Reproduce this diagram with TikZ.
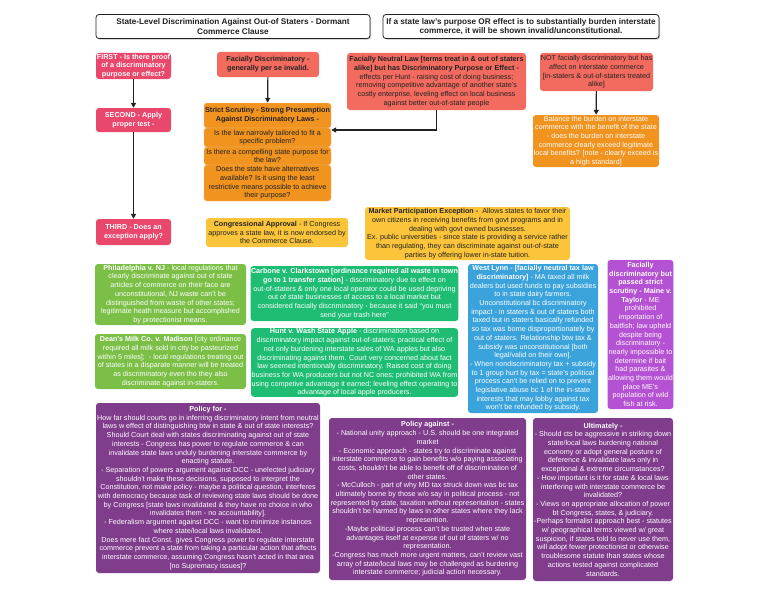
\documentclass[tikz,border=0pt]{standalone}
\usepackage{fontspec}
\setmainfont{Liberation Sans}
\usetikzlibrary{arrows.meta,shadows}
\definecolor{crim}{HTML}{E9476B}
\definecolor{salm}{HTML}{F36B5F}
\definecolor{oran}{HTML}{F0931F}
\definecolor{yell}{HTML}{FBC43A}
\definecolor{lgreen}{HTML}{7CBF47}
\definecolor{tgreen}{HTML}{1FBC74}
\definecolor{lblue}{HTML}{3BA3DC}
\definecolor{mag}{HTML}{B452D3}
\definecolor{dpurp}{HTML}{7F3D8B}
\definecolor{ink}{HTML}{222222}
\newcommand{\fsz}{\fontsize{7.2}{8.7}\selectfont}
\tikzset{
  box/.style={rounded corners=3pt, align=center, inner sep=0.5pt, font=\fsz, text=ink},
  wbox/.style={box, text=white},
  titlebox/.style={rounded corners=3pt, align=center, inner sep=1pt, draw=ink, line width=0.8pt, fill=white,
     font=\fontsize{8.2}{9.2}\selectfont\bfseries, text=ink,
     drop shadow={shadow xshift=1pt, shadow yshift=-1.2pt, opacity=0.45}},
  arr/.style={draw=ink, line width=1.2pt, -{Triangle[length=5pt,width=5pt]}},
}
\begin{document}
\begin{tikzpicture}[x=1pt,y=-1pt]
\useasboundingbox (0,0) rectangle (768,594);
\fill[white] (0,0) rectangle (768,594);

% titles
\node[titlebox, minimum width=274pt, minimum height=24pt] (t1) at (233,26.5)
 {State-Level Discrimination Against Out-of Staters - Dormant\\Commerce Clause};
\node[titlebox, minimum width=276pt, minimum height=24pt] (t2) at (521,26.5)
 {If a state law's purpose OR effect is to substantially burden interstate\\commerce, it will be shown invalid/unconstitutional.};

% left column
\node[wbox, fill=crim, font=\fsz\bfseries, minimum width=75pt, minimum height=26pt] (first) at (133.5,66)
 {FIRST - Is there proof\\of a discriminatory\\purpose or effect?};
\node[wbox, fill=crim, font=\fsz\bfseries, minimum width=75pt, minimum height=24pt] (second) at (133.5,120)
 {SECOND - Apply\\proper test -};
\node[wbox, fill=crim, font=\fsz\bfseries, minimum width=75pt, minimum height=26pt] (third) at (133.5,232)
 {THIRD - Does an\\exception apply?};

% top row
\node[box, fill=salm, font=\fsz\bfseries, minimum width=102pt, minimum height=25pt] (facdisc) at (268,64.5)
 {Facially Discriminatory -\\generally per se invalid.};
\node[box, fill=salm, minimum width=179pt, minimum height=57pt] (neutral) at (436.5,81.5)
 {\textbf{Facially Neutral Law [terms treat in \& out of staters}\\\textbf{alike] but has Discriminatory Purpose or Effect -}\\effects per Hunt - raising cost of doing business;\\removing competitive advantage of another state's\\costly enterprise, leveling effect on local business\\against better out-of-state people};
\node[box, fill=salm, minimum width=113pt, minimum height=38pt] (notfac) at (596.5,72)
 {NOT facially discriminatory but has\\affect on interstate commerce\\{}[in-staters \& out-of-staters treated\\alike]};

% strict scrutiny stack
\node[box, fill=oran, draw=oran!60!white, line width=0.4pt, minimum width=127pt, minimum height=25pt] (strictA) at (267.5,115.5)
 {\textbf{Strict Scrutiny - Strong Presumption}\\\textbf{Against Discriminatory Laws -}};
\node[box, fill=oran, draw=oran!60!white, line width=0.4pt, minimum width=127pt, minimum height=19pt] (strictB) at (267.5,137.5)
 {Is the law narrowly tailored to fit a\\specific problem?};
\node[box, fill=oran, draw=oran!60!white, line width=0.4pt, minimum width=127pt, minimum height=18pt] (strictC) at (267.5,156)
 {Is there a compelling state purpose for\\the law?};
\node[box, fill=oran, draw=oran!60!white, line width=0.4pt, minimum width=127pt, minimum height=36pt] (strictD) at (267.5,183)
 {Does the state have alternatives\\available? Is it using the least\\restrictive means possible to achieve\\their purpose?};

\node[wbox, fill=oran, minimum width=126pt, minimum height=52pt] (balance) at (596,141)
 {Balance the burden on interstate\\commerce with the benefit of the state\\- does the burden on interstate\\commerce clearly exceed legitimate\\local benefits? [note - clearly exceed is\\a high standard]};

% exceptions
\node[box, fill=yell, minimum width=142pt, minimum height=29pt] (congr) at (277,232.5)
 {\textbf{Congressional Approval} - If Congress\\approves a state law, it is now endorsed by\\the Commerce Clause.};
\node[box, fill=yell, minimum width=205pt, minimum height=53pt] (market) at (467.5,233.5)
 {\textbf{Market Participation Exception -}\ \ Allows states to favor their\\own citizens in receiving benefits from govt programs and in\\dealing with govt owned businesses.\\Ex. public universities - since state is providing a service rather\\than regulating, they can discriminate against out-of-state\\parties by offering lower in-state tuition.};

% cases
\node[wbox, fill=lgreen, minimum width=151pt, minimum height=61pt] (phil) at (170.5,294.5)
 {\textbf{Philadelphia v. NJ} - local regulations that\\clearly discriminate against out of state\\articles of commerce on their face are\\unconstitutional, NJ waste can't be\\distinguished from waste of other states;\\legitimate heath measure but accomplished\\by protectionist means.};
\node[wbox, fill=lgreen, minimum width=151pt, minimum height=55pt] (dean) at (170.5,361.5)
 {\textbf{Dean's Milk Co. v. Madison} [city ordinance\\required all milk sold in city be pasteurized\\within 5 miles]; \ - local regulations treating out\\of states in a disparate manner will be treated\\as discriminatory even tho they also\\discriminate against in-staters.};
\node[wbox, fill=tgreen, minimum width=207pt, minimum height=55pt] (carbone) at (354.5,293.5)
 {\textbf{Carbone v. Clarkstown [ordinance required all waste in town}\\\textbf{go to 1 transfer station]} - discriminatory due to effect on\\out-of-staters \& only one local operator could be used depriving\\out of state businesses of access to a local market but\\considered facially discriminatory - because it said ``you must\\send your trash here''};
\node[wbox, fill=tgreen, minimum width=207pt, minimum height=65pt] (hunt) at (354.5,362.5)
 {\textbf{Hunt v. Wash State Apple} - discrimination based on\\discriminatory impact against out-of-staters; practical effect of\\not only burdening interstate sales of WA apples but also\\discriminating against them. Court very concerned about fact\\law seemed intentionally discriminatory. Raised cost of doing\\business for WA producers but not NC ones; prohibited WA from\\using competive advantage it earned; leveling effect operating to\\advantage of local apple producers.};
\node[wbox, fill=lblue, minimum width=130pt, minimum height=149pt] (westlynn) at (533,338.5)
 {\textbf{West Lynn - [facially neutral tax law}\\\textbf{discriminatory]} - MA taxed all milk\\dealers but used funds to pay subsidies\\to in state dairy farmers.\\Unconstitutional bc discriminatory\\impact - in staters \& out of staters both\\taxed but in staters basically refunded\\so tax was borne disproportionately by\\out of staters. Relationship btw tax \&\\subsidy was unconstitutional [both\\legal/valid on their own].\\- When nondiscriminatory tax + subsidy\\to 1 group hurt by tax = state's political\\process can't be relied on to prevent\\legislative abuse bc 1 of the in-state\\interests that may lobby against tax\\won't be refunded by subsidy.};
\node[wbox, fill=mag, minimum width=65pt, minimum height=149pt] (maine) at (640.5,334.5)
 {\textbf{Facially}\\\textbf{discriminatory but}\\\textbf{passed strict}\\\textbf{scrutiny - Maine v.}\\\textbf{Taylor} - ME\\prohibited\\importation of\\baitfish; law upheld\\despite being\\discriminatory -\\nearly impossible to\\determine if bait\\had parasites \&\\allowing them would\\place ME's\\population of wild\\fish at risk.};

% policy
\node[wbox, fill=dpurp, minimum width=224pt, minimum height=170pt] (pfor) at (208,488)
 {\textbf{Policy for -}\\How far should courts go in inferring discriminatory intent from neutral\\laws w effect of distinguishing btw in state \& out of state interests?\\Should Court deal with states discriminating against out of state\\interests - Congress has power to regulate commerce \& can\\invalidate state laws unduly burdening interstate commerce by\\enacting statute.\\- Separation of powers argument against DCC - unelected judiciary\\shouldn't make these decisions, supposed to interpret the\\Constitution, not make policy - maybe a political question, interferes\\with democracy because task of reviewing state laws should be done\\by Congress [state laws invalidated \& they have no choice in who\\invalidates them - no accountability].\\- Federalism argument against DCC - want to minimize instances\\where state/local laws invalidated.\\Does mere fact Const. gives Congress power to regulate interstate\\commerce prevent a state from taking a particular action that affects\\interstate commerce, assuming Congress hasn't acted in that area\\{}[no Supremacy issues]?};
\node[wbox, fill=dpurp, minimum width=197pt, minimum height=162pt] (pagainst) at (427.5,499)
 {\textbf{Policy against -}\\- National unity approach - U.S. should be one integrated\\market\\- Economic approach - states try to discriminate against\\interstate commerce to gain benefits w/o paying associating\\costs, shouldn't be able to benefit off of discrimination of\\other states.\\- McCulloch - part of why MD tax struck down was bc tax\\ultimately borne by those w/o say in political process - not\\represented by state, taxation without representation - states\\shouldn't be harmed by laws in other states where they lack\\represention.\\-Maybe political process can't be trusted when state\\advantages itself at expense of out of staters w/ no\\representation.\\-Congress has much more urgent matters, can't review vast\\array of state/local laws may be challenged as burdening\\interstate commerce; judicial action necessary.};
\node[wbox, fill=dpurp, minimum width=140pt, minimum height=163pt] (ult) at (603,499.5)
 {\textbf{Ultimately -}\\- Should cts be aggressive in striking down\\state/local laws burdening national\\economy or adopt general posture of\\deference \& invalidate laws only in\\exceptional \& extreme circumstances?\\- How important is it for state \& local laws\\interfering with interstate commerce be\\invalidated?\\- Views on appropriate allocation of power\\bt Congress, states, \& judiciary.\\-Perhaps formalist approach best - statutes\\w/ geographical terms viewed w/ great\\suspicion, if states told to never use them,\\will adopt fewer protectionist or otherwise\\troublesome statute than states whose\\actions tested against complicated\\standards.};

% connectors
\coordinate (ah) at (0,130);
\draw[arr] (first) -- (second);
\draw[arr] (second) -- (third);
\draw[arr] (facdisc) -- (strictA);
\draw[arr] (neutral.south) |- (strictB.east |- ah);
\draw[arr] (notfac) -- (balance);
\end{tikzpicture}
\end{document}
